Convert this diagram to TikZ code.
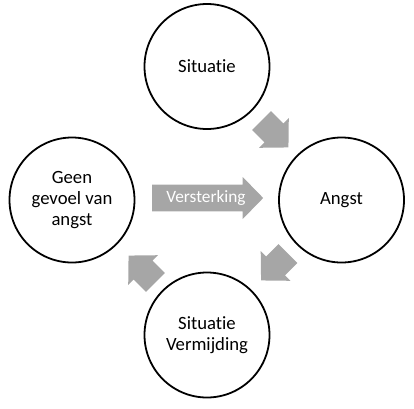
\documentclass[tikz,border=0pt]{standalone}
\usepackage{fontspec}
\setmainfont{Carlito}[Ligatures={NoCommon}]
\definecolor{arrowgray}{HTML}{A6A6A6}
\tikzset{
  bubble/.style={circle, draw=black, line width=1.8pt, minimum size=125pt, inner sep=0pt,
    align=center, font=\fontsize{18.7}{21}\selectfont},
  grayarrow/.style={fill=arrowgray, draw=none},
  arrowtext/.style={text=white, font=\fontsize{17.3}{20}\selectfont, inner sep=0pt}
}
\newcommand{\blockarrow}[2]{% #1 = half length
  \path[grayarrow] (-#1,-13.3) -- (#1-20.5,-13.3) -- (#1-20.5,-21) -- (#1,0)
    -- (#1-20.5,21) -- (#1-20.5,13.3) -- (-#1,13.3) -- cycle;}
\begin{document}
\begin{tikzpicture}[x=1pt,y=-1pt]
\useasboundingbox (0,0) rectangle (414,408);
\node[bubble] (sit)   at (207,66.5)  {Situatie};
\node[bubble] (angst) at (341.5,200) {Angst};
\node[bubble] (avoid) at (207,335)   {Situatie\\Vermijding};
\node[bubble] (geen)  at (72,200)    {Geen\\gevoel van\\angst};
% small cycle arrows
\begin{scope}[shift={(275,134)},rotate=-45]\blockarrow{19}{}\end{scope}
\begin{scope}[shift={(274.5,267)},rotate=-135]\blockarrow{19}{}\end{scope}
\begin{scope}[shift={(142,269)},rotate=135]\blockarrow{19}{}\end{scope}
% reinforcement arrow
\begin{scope}[shift={(207.6,198)}]\blockarrow{55.6}{}\end{scope}
\node[arrowtext] (vers) at (206,197.5) {Versterking};
\end{tikzpicture}
\end{document}
